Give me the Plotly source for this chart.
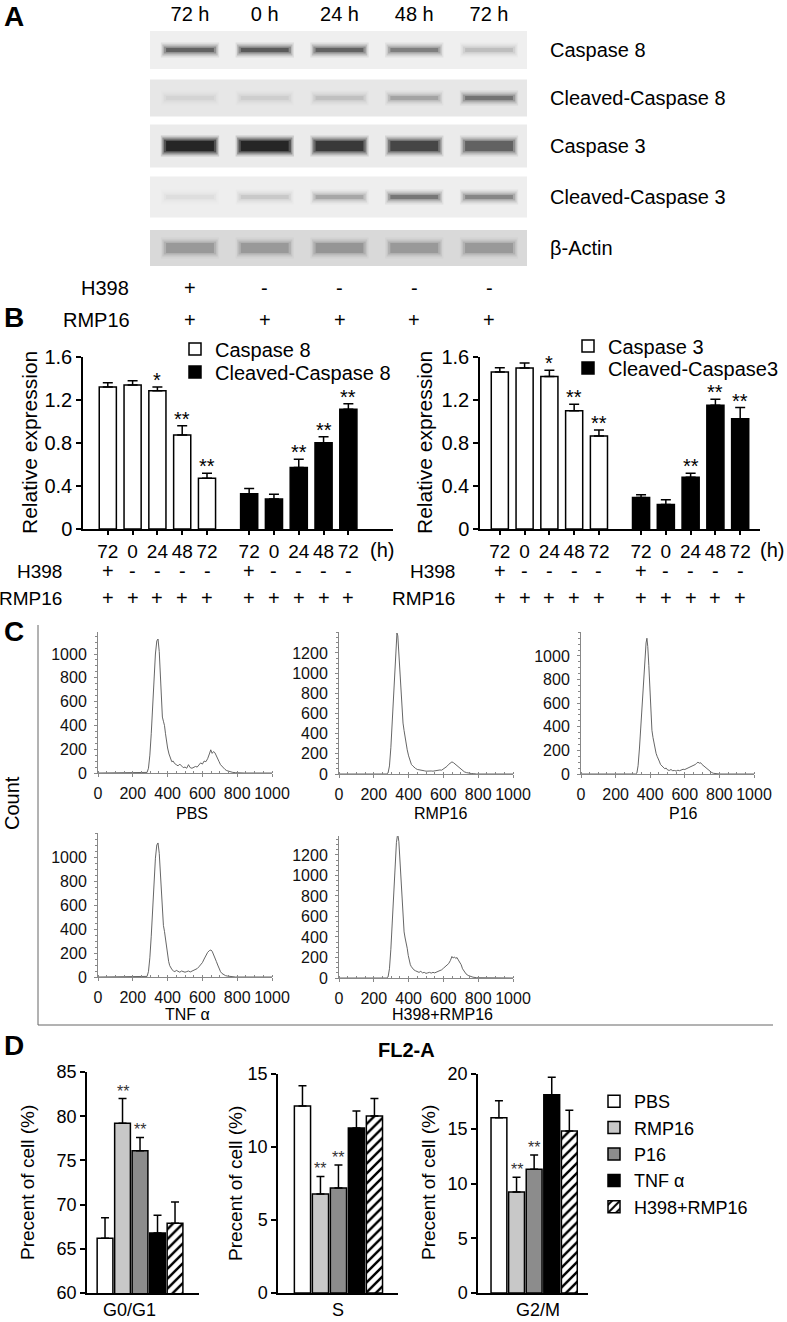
import plotly.graph_objects as go

W, H = 787, 1322
FONT = "Liberation Sans, Arial, sans-serif"


def fx(px):
    return px / W


def fy(py):
    return 1 - py / H


# ------------------------------------------------------------------ data
# A  western blot: band darkness (0-1) in each lane
blot_lanes = ["72 h", "0 h", "24 h", "48 h", "72 h"]
blot_rows = ["Caspase 8", "Cleaved-Caspase 8", "Caspase 3", "Cleaved-Caspase 3", "β-Actin"]
band_casp8 = [0.52, 0.57, 0.52, 0.38, 0.14]
band_cl_casp8 = [0.05, 0.07, 0.12, 0.22, 0.42]
band_casp3 = [1.00, 1.00, 0.80, 0.70, 0.52]
band_cl_casp3 = [0.04, 0.10, 0.22, 0.42, 0.35]
band_actin = [0.22, 0.22, 0.23, 0.22, 0.22]
h398_signs = ["+", "-", "-", "-", "-"]
rmp16_signs = ["+", "+", "+", "+", "+"]

# B  relative expression
hours = ["72", "0", "24", "48", "72"]
casp8 = [1.32, 1.34, 1.285, 0.875, 0.473]
casp8_err = [0.04, 0.04, 0.035, 0.085, 0.046]
casp8_sig = ["", "", "*", "**", "**"]
cl_casp8 = [0.327, 0.278, 0.571, 0.803, 1.115]
cl_casp8_err = [0.05, 0.046, 0.078, 0.056, 0.049]
cl_casp8_sig = ["", "", "**", "**", "**"]
casp3 = [1.461, 1.498, 1.418, 1.10, 0.865]
casp3_err = [0.04, 0.046, 0.058, 0.061, 0.055]
casp3_sig = ["", "", "*", "**", "**"]
cl_casp3 = [0.293, 0.229, 0.482, 1.152, 1.025]
cl_casp3_err = [0.025, 0.043, 0.037, 0.056, 0.105]
cl_casp3_sig = ["", "", "**", "**", "**"]

# C  cell cycle histograms (FL2-A channel vs count)
pbs_ch = [0, 270, 282, 290, 298, 306, 314, 322, 330, 338, 345, 352, 358, 364, 370, 376, 382, 388, 394, 400,
          408, 416, 424, 432, 440, 450, 460, 470, 480, 490, 500, 510, 520, 530, 540, 550, 560, 570, 580, 590,
          600, 610, 620, 630, 640, 648, 656, 664, 672, 680, 688, 696, 704, 712, 720, 730, 740, 750, 762, 775,
          790, 810, 840, 1000]
pbs_count = [0, 0, 5, 40, 150, 330, 560, 800, 1000, 1110, 1126, 1020, 840, 640, 470, 435, 400, 330, 260, 210,
             160, 120, 95, 100, 80, 70, 60, 75, 55, 45, 50, 40, 70, 45, 40, 45, 55, 50, 65, 85,
             75, 100, 95, 120, 160, 195, 165, 180, 170, 140, 115, 95, 70, 55, 40, 30, 20, 15, 8, 5,
             3, 2, 0, 0]
rmp16_ch = [0, 272, 282, 290, 298, 306, 314, 322, 328, 333, 338, 344, 350, 356, 362, 368, 374, 380, 386, 392,
            400, 408, 416, 424, 432, 440, 450, 460, 470, 480, 490, 500, 510, 520, 530, 540, 550, 560, 570, 580,
            590, 600, 610, 620, 630, 640, 649, 658, 666, 674, 682, 690, 700, 710, 720, 732, 745, 760, 775, 790,
            1000]
rmp16_count = [0, 0, 10, 80, 260, 520, 820, 1120, 1330, 1398, 1370, 1200, 980, 780, 620, 505, 430, 360, 300, 240,
               180, 130, 95, 80, 65, 55, 45, 40, 35, 30, 32, 28, 30, 26, 30, 28, 32, 30, 35, 40,
               38, 50, 60, 75, 95, 110, 120, 112, 100, 90, 75, 60, 45, 35, 22, 14, 8, 5, 3, 0,
               0]
p16_ch = [0, 315, 323, 330, 338, 346, 354, 362, 370, 376, 381, 386, 392, 398, 404, 410, 416, 422, 428, 434,
          440, 446, 452, 460, 468, 476, 484, 492, 500, 510, 520, 530, 540, 550, 560, 570, 580, 590, 600, 610,
          620, 630, 640, 650, 660, 668, 676, 684, 692, 700, 708, 716, 726, 736, 746, 756, 766, 780, 800, 1000]
p16_count = [0, 0, 8, 70, 220, 420, 640, 860, 1020, 1110, 1150, 1080, 920, 720, 540, 370, 310, 260, 210, 175,
             150, 135, 110, 80, 70, 60, 45, 50, 35, 30, 38, 28, 30, 25, 32, 28, 35, 40, 38, 45,
             50, 55, 65, 75, 80, 90, 100, 92, 95, 80, 70, 60, 45, 35, 22, 12, 6, 3, 0, 0]
tnf_ch = [0, 272, 282, 290, 298, 306, 314, 322, 330, 338, 345, 352, 358, 364, 370, 376, 382, 388, 394, 400,
          406, 412, 418, 426, 434, 442, 450, 460, 470, 480, 490, 500, 510, 520, 530, 540, 550, 560, 570, 580,
          590, 600, 610, 620, 630, 640, 649, 656, 664, 672, 680, 688, 696, 704, 712, 722, 732, 742, 755, 770,
          790, 1000]
tnf_count = [0, 0, 5, 45, 160, 340, 570, 810, 990, 1100, 1117, 1030, 860, 680, 520, 430, 380, 310, 250, 190,
             130, 95, 75, 60, 50, 45, 55, 45, 40, 50, 45, 40, 45, 50, 42, 48, 55, 60, 70, 85,
             100, 120, 150, 180, 205, 220, 225, 215, 190, 160, 130, 100, 70, 45, 30, 18, 12, 8, 5, 3,
             0, 0]
h398_ch = [0, 272, 282, 290, 298, 306, 314, 322, 330, 335, 339, 344, 350, 356, 362, 368, 374, 380, 386, 392,
           398, 404, 410, 416, 422, 430, 440, 450, 460, 470, 480, 490, 500, 510, 520, 530, 540, 550, 560, 570,
           580, 590, 600, 610, 620, 630, 640, 649, 656, 664, 671, 678, 686, 695, 702, 710, 720, 730, 742, 755,
           770, 790, 1000]
h398_count = [0, 0, 10, 90, 280, 540, 840, 1120, 1320, 1380, 1390, 1330, 1150, 920, 720, 560, 450, 390, 350, 290,
              220, 170, 130, 110, 95, 80, 70, 60, 55, 65, 50, 55, 45, 50, 55, 48, 55, 50, 58, 62,
              70, 80, 95, 110, 120, 140, 170, 210, 195, 205, 190, 200, 175, 150, 130, 90, 65, 40, 25, 15,
              8, 3, 0]
hist_titles = ["PBS", "RMP16", "P16", "TNF α", "H398+RMP16"]

# D  cell cycle distribution
groups = ["PBS", "RMP16", "P16", "TNF α", "H398+RMP16"]
phases = ["G0/G1", "S", "G2/M"]
g0g1 = [66.2, 79.2, 76.1, 66.8, 67.9]
g0g1_err = [2.3, 2.8, 1.5, 2.0, 2.4]
s_phase = [12.8, 6.78, 7.19, 11.3, 12.12]
s_phase_err = [1.4, 1.2, 1.58, 1.17, 1.2]
g2m = [16.0, 9.23, 11.3, 18.1, 14.8]
g2m_err = [1.55, 1.35, 1.3, 1.6, 1.9]
phase_sig = ["", "**", "**", "", ""]

# ------------------------------------------------------------------ styles
ROW_POS = [50, 98, 146, 197, 248]          # blot strip centres (px)
STRIP_HALF = [19, 18.5, 21.5, 20.5, 18]
STRIP_BG = ["#efefef", "#e7e7e7", "#ebebeb", "#eeeeee", "#d9d9d9"]
BAND_PX = [7, 7, 13, 7, 13]
BAND_LAYERS = [(8, 0.39, 0.15), (4, 0.37, 0.3), (0, 0.35, 0.5), (-3, 0.32, 0.7)]
GROUP_GAP = 5.7
D_FILLS = ["white", "#c8c8c8", "#8c8c8c", "black", "white"]

fig = go.Figure()
ann = []
shapes = []


def note(text, x, y, size, xref="paper", yref="paper", **kw):
    font = kw.pop("font", dict(size=size, color="black", family=FONT))
    kw.setdefault("xanchor", "center")
    kw.setdefault("yanchor", "middle")
    ann.append(dict(text=text, x=x, y=y, xref=xref, yref=yref, showarrow=False, font=font, **kw))


def stars(ax, xs, vals, errs, sigs, size, color, shift):
    for xv, v, e, s in zip(xs, vals, errs, sigs):
        if s:
            note(s, xv, v + e, size, xref="x" + ax, yref="y" + ax, yanchor="bottom", yshift=shift,
                 font=dict(size=size, color=color, family=FONT))


# ------------------------------------------------------------------ A
bands = [band_casp8, band_cl_casp8, band_casp3, band_cl_casp3, band_actin]
for i, dark in enumerate(bands):
    yc = ROW_POS[i]
    shapes.append(dict(type="rect", xref="x domain", yref="y", x0=0, x1=1,
                       y0=yc - STRIP_HALF[i], y1=yc + STRIP_HALF[i],
                       fillcolor=STRIP_BG[i], line_width=0, layer="below"))
    for j, d in enumerate(dark):
        for extra, half, k in BAND_LAYERS:
            fig.add_trace(go.Scatter(
                x=[j - half, j + half], y=[yc, yc], mode="lines",
                line=dict(color=f"rgba(20,20,20,{d * k:.3f})", width=BAND_PX[i] + extra),
                xaxis="x", yaxis="y", showlegend=False, hoverinfo="skip"))

note("H398", fx(131), fy(288), 20, xanchor="right")
note("RMP16", fx(132), fy(320), 20, xanchor="right")
for j in range(5):
    note(h398_signs[j], j, fy(288), 20, xref="x")
    note(rmp16_signs[j], j, fy(320), 20, xref="x")


# ------------------------------------------------------------------ B
def add_expression(ax, names, vals, errs, sigs, fills, legends):
    for g in range(2):
        xs = [i + g * GROUP_GAP for i in range(5)]
        fig.add_trace(go.Bar(
            x=xs, y=vals[g], width=0.69, name=names[g],
            marker=dict(color=fills[g], line=dict(color="black", width=1.5)),
            error_y=dict(type="data", array=errs[g], arrayminus=[0] * 5, symmetric=False,
                         color="black", thickness=1.5, width=5),
            xaxis="x" + ax, yaxis="y" + ax, legend=legends[g]))
        stars(ax, xs, vals[g], errs[g], sigs[g], 20, "black", -6)


add_expression("2", ["Caspase 8", "Cleaved-Caspase 8"], [casp8, cl_casp8],
               [casp8_err, cl_casp8_err], [casp8_sig, cl_casp8_sig], ["white", "black"],
               ["legend", "legend2"])
add_expression("3", ["Caspase 3", "Cleaved-Caspase3"], [casp3, cl_casp3],
               [casp3_err, cl_casp3_err], [casp3_sig, cl_casp3_sig], ["white", "black"],
               ["legend3", "legend4"])

b_x = [i + g * GROUP_GAP for g in range(2) for i in range(5)]
for ax, title_x, h_x, lab_x in [("2", 30, 382, 64), ("3", 425, 772, 457)]:
    note("Relative expression", fx(title_x), fy(443), 21, textangle=-90)
    note("(h)", fx(h_x), fy(550), 20)
    note("H398", fx(lab_x), fy(571), 19, xanchor="right")
    note("RMP16", fx(lab_x), fy(598), 19, xanchor="right")
    for k, xv in enumerate(b_x):
        note((h398_signs * 2)[k], xv, fy(571), 20, xref="x" + ax)
        note((rmp16_signs * 2)[k], xv, fy(598), 20, xref="x" + ax)

# ------------------------------------------------------------------ C
hists = [(pbs_ch, pbs_count), (rmp16_ch, rmp16_count), (p16_ch, p16_count),
         (tnf_ch, tnf_count), (h398_ch, h398_count)]
for k, (ch, cnt) in enumerate(hists):
    ax = str(4 + k)
    fig.add_trace(go.Scatter(x=ch, y=cnt, mode="lines", line=dict(color="#555555", width=0.9),
                             xaxis="x" + ax, yaxis="y" + ax, showlegend=False, hoverinfo="skip"))

hist_title_pos = [(192, 813), (440, 813), (683, 813), (187, 1015), (442, 1015)]
for t, (px_, py_) in zip(hist_titles, hist_title_pos):
    note(t, fx(px_), fy(py_), 16)
note("Count", fx(12), fy(803), 20, textangle=-90)
shapes.append(dict(type="line", xref="paper", yref="paper", x0=fx(38), x1=fx(38), y0=fy(625), y1=fy(1025),
                   line=dict(color="#666666", width=1)))
shapes.append(dict(type="line", xref="paper", yref="paper", x0=fx(38), x1=fx(773), y0=fy(1025), y1=fy(1025),
                   line=dict(color="#666666", width=1)))

# ------------------------------------------------------------------ D
d_vals = [g0g1, s_phase, g2m]
d_errs = [g0g1_err, s_phase_err, g2m_err]
for p in range(3):
    ax = str(9 + p)
    for g, name in enumerate(groups):
        marker = dict(color=D_FILLS[g], line=dict(color="black", width=1.5))
        if g == 4:
            marker["pattern"] = dict(shape="/", fgcolor="black", bgcolor="white", size=7, solidity=0.35)
        fig.add_trace(go.Bar(
            x=[g], y=[d_vals[p][g]], width=0.9, name=name, marker=marker,
            error_y=dict(type="data", array=[d_errs[p][g]], arrayminus=[0], symmetric=False,
                         color="black", thickness=1.5, width=4),
            xaxis="x" + ax, yaxis="y" + ax, legend="legend5", legendgroup=name,
            showlegend=(p == 0)))
    stars(ax, list(range(5)), d_vals[p], d_errs[p], phase_sig, 16, "#333333", -3)

note("FL2-A", fx(406), fy(1050), 20, font=dict(size=20, color="black", family=FONT, weight="bold"))
for title_x in [27, 235, 428]:
    note("Precent of cell (%)", fx(title_x), fy(1183), 19, textangle=-90)
for ph, (ax, xv) in zip(phases, [("9", 1.4), ("10", 2.0), ("11", 2.2)]):
    note(ph, xv, fy(1310), 18, xref="x" + ax)

# panel letters
for letter, py_ in [("A", 16), ("B", 317), ("C", 631), ("D", 1045)]:
    note(letter, fx(14), fy(py_), 28, font=dict(size=28, color="black", family=FONT, weight="bold"))

# ------------------------------------------------------------------ axes
layout_axes = {}
layout_axes["xaxis"] = dict(domain=[fx(150), fx(527)], range=[-0.535, 4.508], side="top", anchor="y",
                            tickvals=list(range(5)), ticktext=blot_lanes, ticks="", showline=False,
                            showgrid=False, zeroline=False, tickfont=dict(size=20), ticklabelstandoff=2,
                            automargin=False)
layout_axes["yaxis"] = dict(domain=[fy(272), fy(28)], range=[272, 28], side="right", anchor="x",
                            tickvals=ROW_POS, ticktext=blot_rows, ticks="", showline=False,
                            showgrid=False, zeroline=False, tickfont=dict(size=20), ticklabelstandoff=22,
                            automargin=False)

bar_line = dict(showline=True, linecolor="black", linewidth=1.5, showgrid=False, zeroline=False,
                ticks="outside", tickcolor="black", tickwidth=1.5, automargin=False)
for ax, xd, xr in [("2", (83, 393), (-1.0, 11.5)), ("3", (480, 760), (-0.8, 10.5))]:
    layout_axes["xaxis" + ax] = dict(domain=[fx(xd[0]), fx(xd[1])], range=list(xr), anchor="y" + ax,
                                     tickvals=b_x, ticktext=hours * 2, ticklen=4,
                                     tickfont=dict(size=19), **bar_line)
    layout_axes["yaxis" + ax] = dict(domain=[fy(529), fy(357)], range=[0, 1.6], anchor="x" + ax,
                                     tickvals=[0, 0.4, 0.8, 1.2, 1.6],
                                     ticktext=["0", "0.4", "0.8", "1.2", "1.6"], ticklen=5,
                                     tickfont=dict(size=20), **bar_line)

hist_geo = [  # x px, y px (top, bottom), y max, last tick
    ((98, 272), (632, 773), 1185, 1000),
    ((339, 513), (632, 774), 1408, 1200),
    ((581, 754), (632, 774), 1203, 1000),
    ((98, 272), (833, 977), 1200, 1000),
    ((339, 513), (836, 978), 1385, 1200),
]
hist_line = dict(showline=True, linecolor="#888888", linewidth=1, showgrid=False, zeroline=False,
                 ticks="outside", ticklen=3, tickcolor="#888888", tickfont=dict(size=16, color="#111111"),
                 automargin=False)
for k, (xd, yd, ymax, ytop) in enumerate(hist_geo):
    ax = str(4 + k)
    layout_axes["xaxis" + ax] = dict(domain=[fx(xd[0]), fx(xd[1])], range=[0, 1000], anchor="y" + ax,
                                     tickvals=list(range(0, 1001, 200)), ticklabelstandoff=3,
                                     minor=dict(ticks="inside", ticklen=2, dtick=50, tickcolor="#888888"),
                                     **hist_line)
    layout_axes["yaxis" + ax] = dict(domain=[fy(yd[1]), fy(yd[0])], range=[0, ymax], anchor="x" + ax,
                                     tickvals=list(range(0, ytop + 1, 200)), ticklabelstandoff=4,
                                     minor=dict(ticks="outside", ticklen=2, dtick=50, tickcolor="#888888"),
                                     **hist_line)

d_geo = [
    ((87, 199), (-1.03, 5.37), (1072, 1293), (60, 85), list(range(60, 86, 5))),
    ((278, 398), (-1.36, 5.31), (1074, 1293), (0, 15), list(range(0, 16, 5))),
    ((478, 588), (-1.19, 5.06), (1074, 1293), (0, 20), list(range(0, 21, 5))),
]
for p, (xd, xr, yd, yr, yt) in enumerate(d_geo):
    ax = str(9 + p)
    layout_axes["xaxis" + ax] = dict(domain=[fx(xd[0]), fx(xd[1])], range=list(xr), anchor="y" + ax,
                                     showticklabels=False, showline=True, linecolor="black", linewidth=1.5,
                                     showgrid=False, zeroline=False, ticks="", automargin=False)
    layout_axes["yaxis" + ax] = dict(domain=[fy(yd[1]), fy(yd[0])], range=list(yr), anchor="x" + ax,
                                     tickvals=yt, ticklen=5, tickfont=dict(size=18), **bar_line)


def legend_at(px_, py_, size, anchor="middle"):
    return dict(x=fx(px_), y=fy(py_), xanchor="left", yanchor=anchor, bgcolor="rgba(0,0,0,0)",
                tracegroupgap=0, font=dict(size=size, color="black", family=FONT))


fig.update_layout(
    template="none",
    width=W, height=H,
    margin=dict(l=0, r=0, t=0, b=0, pad=0),
    paper_bgcolor="white", plot_bgcolor="white",
    font=dict(family=FONT, color="black"),
    barmode="overlay",
    showlegend=True,
    legend=legend_at(175, 349, 20),
    legend2=legend_at(175, 372, 20),
    legend3=legend_at(568, 346, 20),
    legend4=legend_at(568, 368, 20),
    legend5=legend_at(594, 1083, 18, anchor="top"),
    annotations=ann,
    shapes=shapes,
    **layout_axes,
)

fig.write_html("out.html", config={"displayModeBar": False},
               post_script="document.body.style.margin = '0px';")
